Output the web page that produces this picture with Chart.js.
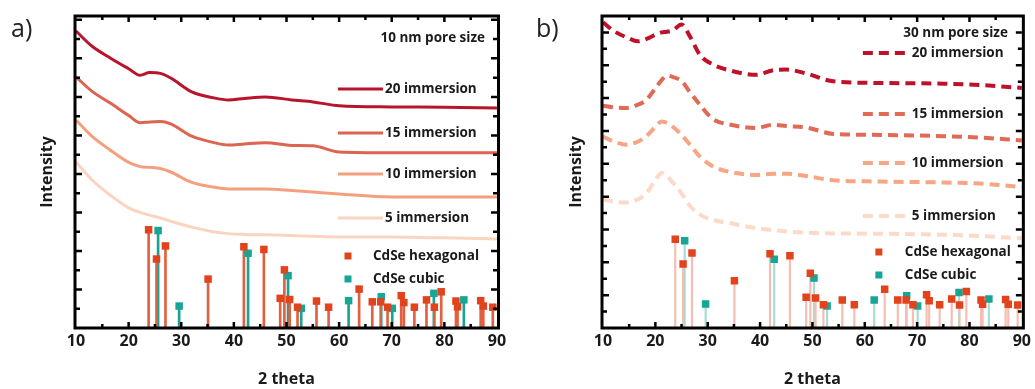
<!DOCTYPE html>
<html>
<head>
<meta charset="utf-8">
<script src="https://cdn.jsdelivr.net/npm/chart.js@4.4.0/dist/chart.umd.min.js"></script>
<style>
  html, body { margin: 0; padding: 0; background: #fff; }
  #wrap { position: relative; width: 1035px; height: 389px; overflow: hidden; font-family: 'Open Sans', sans-serif; }
  .panel { position: absolute; top: 0; height: 389px; }
  #pa { left: 0; width: 517px; }
  #pb { left: 517px; width: 518px; }
  .tag { position: absolute; top: 10px; font-size: 25px; line-height: 34px; color: #222; }
</style>
</head>
<body>
<div id="wrap">
  <div class="panel" id="pa"><canvas id="chartA"></canvas></div>
  <div class="panel" id="pb"><canvas id="chartB"></canvas></div>
  <div class="tag" style="left:11px">a)</div>
  <div class="tag" style="left:536px">b)</div>
</div>
<script>
// panel a: 10 nm pore size (solid lines)
const aTheta = [10, 13, 16.5, 20, 22.2, 24, 26, 28, 32, 36, 39, 42, 46, 51, 55, 60, 70, 80, 90];
const a20 = [7.71, 7.32, 7.01, 6.73, 6.56, 6.63, 6.61, 6.49, 6.13, 5.98, 5.92, 5.96, 6.00, 5.92, 5.87, 5.77, 5.74, 5.73, 5.71];
const a15 = [6.52, 6.15, 5.84, 5.52, 5.33, 5.35, 5.36, 5.30, 4.98, 4.82, 4.75, 4.78, 4.81, 4.74, 4.73, 4.57, 4.55, 4.55, 4.55];
const a10 = [5.40, 4.98, 4.62, 4.30, 4.19, 4.17, 4.14, 4.05, 3.78, 3.66, 3.61, 3.61, 3.61, 3.57, 3.53, 3.48, 3.40, 3.40, 3.40];
const a5  = [4.31, 3.85, 3.45, 3.12, 3.00, 2.93, 2.86, 2.77, 2.62, 2.50, 2.45, 2.43, 2.42, 2.40, 2.38, 2.36, 2.36, 2.34, 2.31];

// panel b: 30 nm pore size (dashed lines)
const bTheta = [10, 12, 14.5, 16.7, 18.3, 20, 21.2, 22.2, 23.4, 25, 26.6, 28.5, 31, 34, 39.3, 42.5, 45, 49, 54, 63, 75, 82, 90];
const b20 = [9.31, 9.05, 8.85, 8.73, 8.80, 8.93, 9.00, 9.02, 9.07, 9.24, 8.88, 8.32, 8.02, 7.85, 7.71, 7.85, 7.87, 7.74, 7.51, 7.46, 7.44, 7.40, 7.31];
const b15 = [6.77, 6.72, 6.70, 6.80, 6.95, 7.30, 7.55, 7.68, 7.64, 7.52, 7.18, 6.80, 6.36, 6.20, 6.09, 6.19, 6.15, 6.10, 5.91, 5.88, 5.84, 5.80, 5.71];
const b10 = [5.83, 5.68, 5.58, 5.68, 5.85, 6.12, 6.29, 6.25, 6.12, 5.88, 5.58, 5.22, 4.92, 4.76, 4.66, 4.70, 4.70, 4.62, 4.50, 4.46, 4.43, 4.40, 4.29];
const b5  = [3.92, 3.85, 3.82, 3.92, 4.11, 4.50, 4.72, 4.62, 4.42, 4.10, 3.72, 3.45, 3.29, 3.20, 3.04, 2.98, 2.94, 2.90, 2.88, 2.87, 2.84, 2.80, 2.73];

// reference patterns
const hexPos = [23.8, 25.3, 27.0, 35.1, 41.9, 45.7, 48.8, 49.6, 50.6, 52.1, 55.7, 58.0, 63.8, 66.3, 67.9, 69.2, 71.8, 72.3, 74.3, 76.6, 78.1, 79.4, 82.2, 82.5, 86.9, 87.4, 89.2];
const hexA = [2.55, 1.79, 2.13, 1.27, 2.11, 2.04, 0.77, 1.51, 0.74, 0.54, 0.70, 0.54, 1.01, 0.68, 0.68, 0.54, 0.84, 0.66, 0.54, 0.73, 0.54, 0.94, 0.70, 0.55, 0.71, 0.57, 0.54];
const hexB = [2.70, 1.95, 2.28, 1.44, 2.26, 2.20, 0.94, 1.67, 0.91, 0.71, 0.85, 0.71, 1.18, 0.85, 0.85, 0.71, 1.01, 0.83, 0.71, 0.88, 0.70, 1.11, 0.85, 0.72, 0.87, 0.72, 0.70];
const cubPos = [25.6, 29.6, 42.7, 50.3, 52.8, 61.8, 68.0, 70.1, 78.0, 83.7];
const cubA = [2.53, 0.57, 1.94, 1.36, 0.51, 0.71, 0.81, 0.51, 0.90, 0.73];
const cubB = [2.66, 0.73, 2.09, 1.52, 0.67, 0.85, 0.98, 0.67, 1.08, 0.88];

const immLabels = ['20 immersion', '15 immersion', '10 immersion', '5 immersion'];
const phaseLabels = ['CdSe hexagonal', 'CdSe cubic'];
const xTickLabels = [10, 20, 30, 40, 50, 60, 70, 80, 90];

const curveColorsA = ['#b8152d', '#dc6450', '#f4a07f', '#fbd4c0'];
const curveColorsB = ['#c0112b', '#e06a55', '#f6a585', '#fcd9c8'];
const hexColor = '#e2431d', cubColor = '#17a595';

function pts(xs, ys) { return xs.map((x, i) => ({ x: x, y: ys[i] })); }

// frame, inward ticks and in-plot labels
const decorPlugin = {
  id: 'decor',
  afterDatasetsDraw(chart, args, o) {
    const ctx = chart.ctx, ca = chart.chartArea;
    const xs = chart.scales.x, ys = chart.scales.y;
    ctx.save();
    // ticks
    ctx.strokeStyle = '#000';
    ctx.lineWidth = 2.5;
    ctx.beginPath();
    for (let v = 15; v < 90; v += 5) {
      const px = xs.getPixelForValue(v), len = v % 10 === 0 ? 6 : 4;
      ctx.moveTo(px, ca.bottom); ctx.lineTo(px, ca.bottom - len);
      ctx.moveTo(px, ca.top); ctx.lineTo(px, ca.top + len);
    }
    for (let v = 0.5; v < ys.max; v += 0.5) {
      const py = ys.getPixelForValue(v), len = Math.abs(v - Math.round(v)) < 1e-6 ? 6 : 4;
      ctx.moveTo(ca.left, py); ctx.lineTo(ca.left + len, py);
      ctx.moveTo(ca.right, py); ctx.lineTo(ca.right - len, py);
    }
    ctx.stroke();
    ctx.lineWidth = 3;
    ctx.strokeRect(ca.left - 1, ca.top, ca.right - ca.left + 2.5, ca.bottom - ca.top);

    // labels
    const R = ca.right;
    ctx.fillStyle = '#1a1a1a';
    ctx.font = 'bold 13.5px "Open Sans"';
    ctx.textBaseline = 'middle';
    ctx.textAlign = 'right';
    ctx.fillText(o.title, R + o.titleDx, o.titleY);
    ctx.textAlign = 'left';
    immLabels.forEach((lab, i) => {
      const y = o.lineY[i];
      ctx.save();
      ctx.strokeStyle = o.colors[i];
      ctx.lineWidth = o.dash ? 4 : 3;
      if (o.dash) ctx.setLineDash([10, 6]);
      ctx.beginPath();
      ctx.moveTo(R + o.lineX0, y); ctx.lineTo(R + o.lineX1, y);
      ctx.stroke();
      ctx.restore();
      ctx.fillText(lab, R + o.textDx, y);
    });
    [hexColor, cubColor].forEach((c, i) => {
      const y = o.markY[i];
      ctx.fillStyle = c;
      ctx.fillRect(R + o.markDx - 3.5, y - 3.5, 7, 7);
      ctx.fillStyle = '#1a1a1a';
      ctx.fillText(phaseLabels[i], R + o.phaseDx, y);
    });
    ctx.restore();
  }
};

function makeChart(id, p) {
  const datasets = [];
  p.curves.forEach((ys, i) => {
    datasets.push({
      type: 'line', data: pts(p.theta, ys), borderColor: p.colors[i],
      borderWidth: p.dash ? 4 : 3, borderDash: p.dash ? [10, 6] : [],
      pointRadius: 0, cubicInterpolationMode: 'monotone', fill: false, order: 3
    });
  });
  datasets.push({
    type: 'bar', data: pts(hexPos, p.hex), backgroundColor: p.hexStick,
    barThickness: p.stickW, grouped: false, order: 2
  });
  datasets.push({
    type: 'bar', data: pts(cubPos, p.cub), backgroundColor: p.cubStick,
    barThickness: p.stickW, grouped: false, order: 2
  });
  datasets.push({
    type: 'scatter', data: pts(hexPos, p.hex), backgroundColor: hexColor,
    pointStyle: 'rect', pointRadius: 5.3, borderWidth: 0, order: 1
  });
  datasets.push({
    type: 'scatter', data: pts(cubPos, p.cub), backgroundColor: cubColor,
    pointStyle: 'rect', pointRadius: 5.3, borderWidth: 0, order: 1
  });

  return new Chart(document.getElementById(id), {
    data: { datasets: datasets },
    options: {
      responsive: true,
      maintainAspectRatio: false,
      animation: false,
      layout: { padding: { top: 16, right: p.padRight, bottom: 0, left: 0 } },
      plugins: { legend: { display: false }, tooltip: { enabled: false }, decor: p.decor },
      scales: {
        x: {
          type: 'linear', min: 10, max: 90, offset: false,
          grid: { display: false, drawTicks: false }, border: { display: false },
          afterBuildTicks: (s) => { s.ticks = xTickLabels.map(v => ({ value: v })); },
          afterFit: (s) => { s.height = 61; },
          ticks: { color: '#1a1a1a', padding: 4, maxRotation: 0, font: { family: 'Open Sans', size: 16, weight: 'bold' } },
          title: { display: true, text: '2 theta', color: '#1a1a1a', padding: 0, font: { family: 'Open Sans', size: 16, weight: 'bold' } }
        },
        y: {
          type: 'linear', min: 0, max: p.yMax,
          grid: { display: false, drawTicks: false }, border: { display: false },
          ticks: { display: false },
          afterFit: (s) => { s.width = p.yWidth; },
          title: { display: true, text: 'Intensity', color: '#1a1a1a', padding: { top: p.yTitlePad, bottom: 0 }, font: { family: 'Open Sans', size: 16, weight: 'bold' } }
        }
      }
    },
    plugins: [decorPlugin]
  });
}

makeChart('chartA', {
  theta: aTheta, curves: [a20, a15, a10, a5], colors: curveColorsA, dash: false,
  hex: hexA, cub: cubA, hexStick: '#e2603f', cubStick: '#1aa393', stickW: 2,
  yMax: 8.1, yWidth: 76, padRight: 20, yTitlePad: 38,
  decor: {
    title: '10 nm pore size', titleDx: -12, titleY: 38, colors: curveColorsA, dash: false,
    lineY: [89, 133, 174, 218], lineX0: -159, lineX1: -114, textDx: -112,
    markY: [256, 279], markDx: -149, phaseDx: -124
  }
});

makeChart('chartB', {
  theta: bTheta, curves: [b20, b15, b10, b5], colors: curveColorsB, dash: true,
  hex: hexB, cub: cubB, hexStick: '#f6bdb0', cubStick: '#a6dcd4', stickW: 1.5,
  yMax: 9.5, yWidth: 86, padRight: 13, yTitlePad: 50,
  decor: {
    title: '30 nm pore size', titleDx: -14, titleY: 33, colors: curveColorsB, dash: true,
    lineY: [53, 114, 163, 216], lineX0: -159, lineX1: -117, textDx: -110,
    markY: [252, 275], markDx: -143, phaseDx: -117
  }
});
</script>
</body>
</html>
